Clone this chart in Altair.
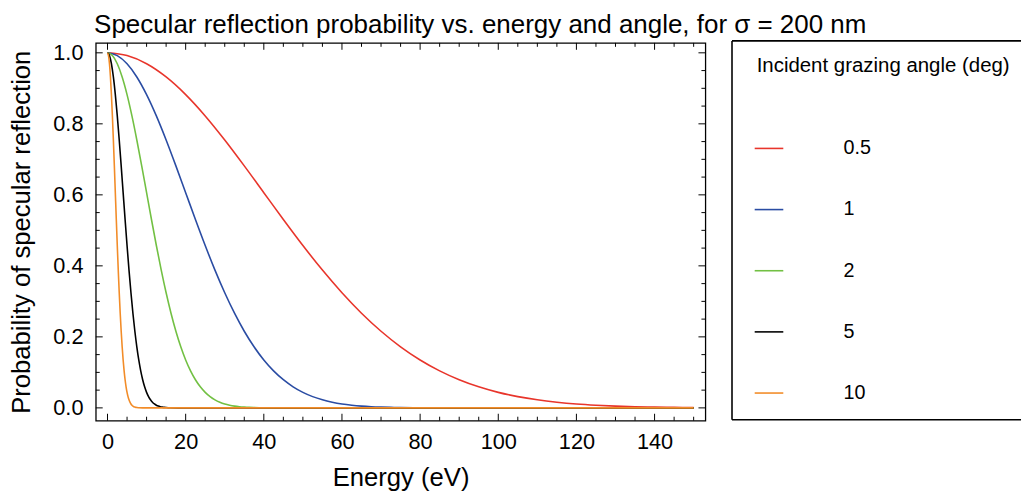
import altair as alt
import pandas as pd

FONT = "Liberation Sans"

angle_labels = ["0.5", "1", "2", "5", "10"]
line_colors = ["#e8352b", "#2a4ca3", "#72c043", "#000000", "#f28c28"]

energy_05 = [0, 5, 10, 15, 20, 25, 30, 35, 40, 45, 50, 55, 60, 65, 70, 75, 80, 85, 90, 95,
             100, 105, 110, 115, 120, 125, 130, 135, 140, 145, 150]
prob_05 = [1.0, 0.9922, 0.9692, 0.9320, 0.8823, 0.8223, 0.7545, 0.6816, 0.6061, 0.5306,
           0.4573, 0.3880, 0.3242, 0.2666, 0.2158, 0.1720, 0.1349, 0.1042, 0.0793, 0.0593,
           0.0437, 0.0317, 0.0227, 0.0160, 0.0110, 0.0075, 0.0050, 0.0033, 0.0022, 0.0014, 0.0009]

energy_1 = [0, 2.5, 5, 7.5, 10, 12.5, 15, 17.5, 20, 22.5, 25, 27.5, 30, 32.5, 35, 37.5, 40,
            42.5, 45, 47.5, 50, 52.5, 55, 57.5, 60, 62.5, 65, 67.5, 70, 72.5, 75, 80, 90, 150]
prob_1 = [1.0, 0.9922, 0.9692, 0.9320, 0.8823, 0.8223, 0.7545, 0.6816, 0.6061, 0.5306,
          0.4573, 0.3880, 0.3242, 0.2666, 0.2158, 0.1720, 0.1349, 0.1042, 0.0793, 0.0593,
          0.0437, 0.0317, 0.0227, 0.0160, 0.0110, 0.0075, 0.0050, 0.0033, 0.0022, 0.0014,
          0.0009, 0.0003, 0.0, 0.0]

energy_2 = [0, 1.25, 2.5, 3.75, 5, 6.25, 7.5, 8.75, 10, 11.25, 12.5, 13.75, 15, 16.25, 17.5,
            18.75, 20, 21.25, 22.5, 23.75, 25, 26.25, 27.5, 28.75, 30, 31.25, 32.5, 33.75, 35,
            36.25, 37.5, 40, 45, 150]
prob_2 = [1.0, 0.9922, 0.9692, 0.9320, 0.8823, 0.8223, 0.7545, 0.6816, 0.6061, 0.5306,
          0.4573, 0.3880, 0.3242, 0.2666, 0.2158, 0.1720, 0.1349, 0.1042, 0.0793, 0.0593,
          0.0437, 0.0317, 0.0227, 0.0160, 0.0110, 0.0075, 0.0050, 0.0033, 0.0022, 0.0014,
          0.0009, 0.0003, 0.0, 0.0]

energy_5 = [0, 0.5, 1, 1.5, 2, 2.5, 3, 3.5, 4, 4.5, 5, 5.5, 6, 6.5, 7, 7.5, 8, 8.5, 9, 9.5,
            10, 10.5, 11, 11.5, 12, 12.5, 13, 13.5, 14, 14.5, 15, 16, 18, 150]
prob_5 = [1.0, 0.9922, 0.9692, 0.9320, 0.8823, 0.8223, 0.7545, 0.6816, 0.6061, 0.5306,
          0.4573, 0.3880, 0.3242, 0.2666, 0.2158, 0.1720, 0.1349, 0.1042, 0.0793, 0.0593,
          0.0437, 0.0317, 0.0227, 0.0160, 0.0110, 0.0075, 0.0050, 0.0033, 0.0022, 0.0014,
          0.0009, 0.0003, 0.0, 0.0]

energy_10 = [0, 0.25, 0.5, 0.75, 1, 1.25, 1.5, 1.75, 2, 2.25, 2.5, 2.75, 3, 3.25, 3.5, 3.75,
             4, 4.25, 4.5, 4.75, 5, 5.25, 5.5, 5.75, 6, 6.25, 6.5, 6.75, 7, 7.25, 7.5, 8, 9, 150]
prob_10 = [1.0, 0.9922, 0.9692, 0.9320, 0.8823, 0.8223, 0.7545, 0.6816, 0.6061, 0.5306,
           0.4573, 0.3880, 0.3242, 0.2666, 0.2158, 0.1720, 0.1349, 0.1042, 0.0793, 0.0593,
           0.0437, 0.0317, 0.0227, 0.0160, 0.0110, 0.0075, 0.0050, 0.0033, 0.0022, 0.0014,
           0.0009, 0.0004, 0.0, 0.0]

x_major = [0, 20, 40, 60, 80, 100, 120, 140]
x_minor = [5, 10, 15, 25, 30, 35, 45, 50, 55, 65, 70, 75, 85, 90, 95, 105, 110, 115,
           125, 130, 135, 145, 150]
y_major = [0.0, 0.2, 0.4, 0.6, 0.8, 1.0]
y_minor = [0.05, 0.1, 0.15, 0.25, 0.3, 0.35, 0.45, 0.5, 0.55, 0.65, 0.7, 0.75, 0.85, 0.9, 0.95]

series = [
    ("0.5", energy_05, prob_05),
    ("1", energy_1, prob_1),
    ("2", energy_2, prob_2),
    ("5", energy_5, prob_5),
    ("10", energy_10, prob_10),
]

W, H = 618, 383
xs = alt.Scale(domain=[-3, 153], nice=False, zero=False)
ys = alt.Scale(domain=[-0.036, 1.028], nice=False, zero=False)
cs = alt.Scale(domain=angle_labels, range=line_colors)

x_axis = alt.Axis(values=x_major, title="Energy (eV)", tickSize=0, domain=False, grid=False,
                  labelFontSize=22, titleFontSize=26, labelPadding=11, titlePadding=13,
                  labelColor="black", titleColor="black", titleFontWeight="normal",
                  labelFont=FONT, titleFont=FONT)
y_axis = alt.Axis(values=y_major, format=".1f", title="Probability of specular reflection",
                  tickSize=0, domain=False, grid=False, labelFontSize=22, titleFontSize=26,
                  labelPadding=13, titlePadding=18.5, labelColor="black", titleColor="black",
                  titleFontWeight="normal", labelFont=FONT, titleFont=FONT)

layers = []
for i, (lab, en, pr) in enumerate(series):
    df = pd.DataFrame({"energy": en, "prob": pr, "angle": lab})
    layers.append(
        alt.Chart(df).mark_line(strokeWidth=1.6, interpolate="monotone").encode(
            x=alt.X("energy:Q", scale=xs, axis=x_axis),
            y=alt.Y("prob:Q", scale=ys, axis=y_axis),
            color=alt.Color("angle:N", scale=cs, legend=None),
        )
    )

def xticks(vals, length, top):
    y0, y1 = (0, length) if top else (H, H - length)
    return alt.Chart(pd.DataFrame({"energy": vals})).mark_rule(color="black", strokeWidth=1).encode(
        x=alt.X("energy:Q", scale=xs, axis=x_axis), y=alt.value(y0), y2=alt.value(y1))

def yticks(vals, length, right):
    x0, x1 = (W, W - length) if right else (0, length)
    return alt.Chart(pd.DataFrame({"prob": vals})).mark_rule(color="black", strokeWidth=1).encode(
        y=alt.Y("prob:Q", scale=ys, axis=y_axis), x=alt.value(x0), x2=alt.value(x1))

tick_layers = [
    xticks(x_major, 7, False), xticks(x_major, 7, True),
    xticks(x_minor, 4, False), xticks(x_minor, 4, True),
    yticks(y_major, 7, False), yticks(y_major, 7, True),
    yticks(y_minor, 4, False), yticks(y_minor, 4, True),
]

plot = alt.layer(*layers, *tick_layers).properties(
    width=W, height=H, view=alt.ViewBackground(stroke="black", strokeWidth=1.3))

LW = 293
one = pd.DataFrame({"k": [0]})
leg_df = pd.DataFrame({"angle": angle_labels})
ly = alt.Y("angle:N", scale=alt.Scale(type="point", domain=angle_labels, range=[107, 355],
                                      padding=0),
           axis=None, sort=angle_labels)
leg_swatch = alt.Chart(leg_df).mark_rule(strokeWidth=1.6).encode(
    y=ly, x=alt.value(23), x2=alt.value(52),
    color=alt.Color("angle:N", scale=cs, legend=None))
leg_text = alt.Chart(leg_df).mark_text(align="left", baseline="middle", font=FONT,
                                       fontSize=20, color="black").encode(
    y=ly, x=alt.value(113), text="angle:N")
leg_title = alt.Chart(one).mark_text(align="left", baseline="alphabetic", font=FONT,
                                     fontSize=20.7, color="black",
                                     text="Incident grazing angle (deg)").encode(
    x=alt.value(25), y=alt.value(30))
box_left = alt.Chart(one).mark_rule(color="black", strokeWidth=1.6).encode(
    x=alt.value(0), y=alt.value(-2), y2=alt.value(382))
box_top = alt.Chart(one).mark_rule(color="black", strokeWidth=1.6).encode(
    y=alt.value(-2), x=alt.value(0), x2=alt.value(LW))
box_bottom = alt.Chart(one).mark_rule(color="black", strokeWidth=1.6).encode(
    y=alt.value(382), x=alt.value(0), x2=alt.value(LW))

legend_panel = alt.layer(leg_title, leg_swatch, leg_text, box_left, box_top, box_bottom).properties(
    width=LW, height=H, view=alt.ViewBackground(stroke=None))

chart = alt.hconcat(plot, legend_panel, spacing=24).properties(
    title=alt.TitleParams(
        "Specular reflection probability vs. energy and angle, for σ = 200 nm",
        anchor="start", fontSize=26.3, font=FONT, fontWeight="normal", color="black",
        dx=87, offset=2),
    padding={"left": 0, "top": 0, "right": 0, "bottom": 0},
).configure_view(stroke=None).configure(font=FONT)

chart.save("out.html", embed_options={"renderer": "svg", "actions": False})
